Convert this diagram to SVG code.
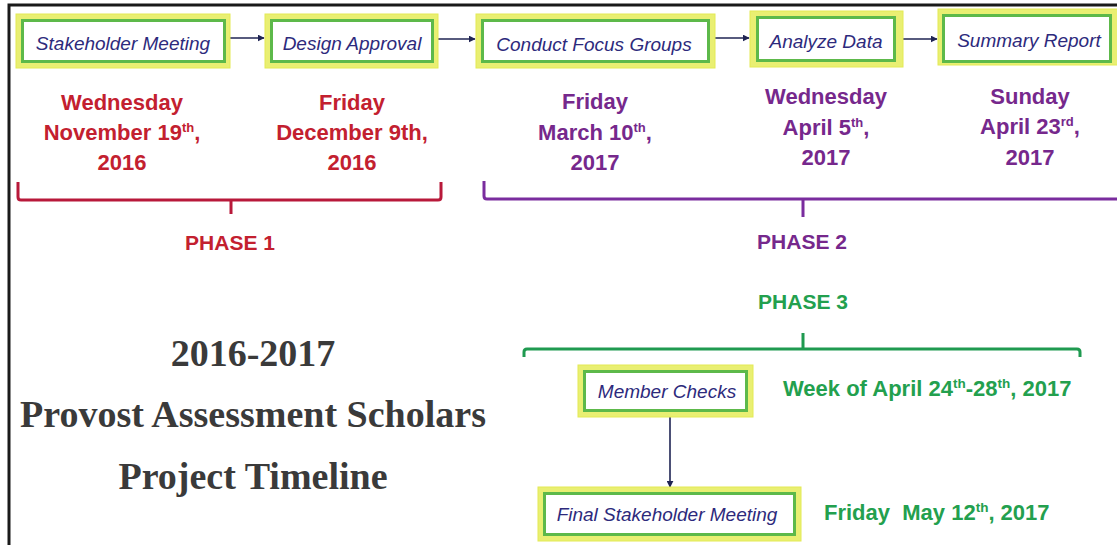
<svg xmlns="http://www.w3.org/2000/svg" width="1117" height="545" viewBox="0 0 1117 545">
<defs>
<style>
.glow{fill:#e9ef72;stroke:#e3ea55;stroke-width:1}
.box{fill:#ffffff;stroke:#5db94a;stroke-width:3}
.nt{font-family:"Liberation Sans",Arial,sans-serif;font-style:italic;font-size:19px;fill:#2d2a7c;text-anchor:middle}
.dr{font-family:"Liberation Sans",Arial,sans-serif;font-weight:bold;font-size:22px;fill:#c3202f;text-anchor:middle}
.dp{font-family:"Liberation Sans",Arial,sans-serif;font-weight:bold;font-size:22px;fill:#76288c;text-anchor:middle}
.dg{font-family:"Liberation Sans",Arial,sans-serif;font-weight:bold;font-size:22px;fill:#23a04e}
.ph{font-family:"Liberation Sans",Arial,sans-serif;font-weight:bold;font-size:21px;text-anchor:middle}
.title{font-family:"Liberation Serif","Times New Roman",serif;font-weight:bold;font-size:38px;fill:#3a3a3a;text-anchor:middle}
.conn{fill:none;stroke:#1f2453;stroke-width:1.6}
.br{fill:none;stroke-width:3;stroke-linejoin:round}
</style>
<marker id="ah" viewBox="0 0 10 10" refX="9" refY="5" markerWidth="7" markerHeight="7" markerUnits="userSpaceOnUse" orient="auto">
<path d="M0,0 L10,5 L0,10 z" fill="#1f2453"/>
</marker>
</defs>
<rect width="1117" height="545" fill="#ffffff"/>
<path d="M9,545 V5 H1117" fill="none" stroke="#1a1a1a" stroke-width="3"/>

<g id="connectors">
<path class="conn" d="M230,38 H264" marker-end="url(#ah)"/>
<path class="conn" d="M437,39 H475" marker-end="url(#ah)"/>
<path class="conn" d="M715,38 H749" marker-end="url(#ah)"/>
<path class="conn" d="M903,39 H937" marker-end="url(#ah)"/>
<path class="conn" d="M670,416 V487" marker-end="url(#ah)"/>
</g>

<g id="n-stakeholder">
<rect class="glow" x="16" y="14" width="214" height="54"/>
<rect class="box" x="22.5" y="20.5" width="202" height="41"/>
<text class="nt" x="123" y="50">Stakeholder Meeting</text>
</g>
<g id="n-design">
<rect class="glow" x="265" y="14" width="173" height="54"/>
<rect class="box" x="271.5" y="20.5" width="161" height="41"/>
<text class="nt" x="352" y="50">Design Approval</text>
</g>
<g id="n-focus">
<rect class="glow" x="476" y="14" width="239" height="54"/>
<rect class="box" x="482.5" y="20.5" width="226" height="41"/>
<text class="nt" x="594" y="51">Conduct Focus Groups</text>
</g>
<g id="n-analyze">
<rect class="glow" x="750" y="11" width="153" height="56"/>
<rect class="box" x="757.5" y="17.5" width="137" height="43"/>
<text class="nt" x="826" y="48">Analyze Data</text>
</g>
<g id="n-summary">
<rect class="glow" x="938" y="9" width="190" height="56"/>
<rect class="box" x="943.5" y="15.5" width="167" height="46"/>
<text class="nt" x="1029" y="47">Summary Report</text>
</g>
<g id="n-member">
<rect class="glow" x="578" y="365" width="175" height="52"/>
<rect class="box" x="584.5" y="371.5" width="162" height="39"/>
<text class="nt" x="667" y="398">Member Checks</text>
</g>
<g id="n-final">
<rect class="glow" x="538" y="487" width="263" height="54"/>
<rect class="box" x="544.5" y="493.5" width="250" height="41"/>
<text class="nt" x="667" y="521">Final Stakeholder Meeting</text>
</g>

<g id="dates-phase1">
<text class="dr" x="122" y="110">Wednesday</text>
<text class="dr" x="122" y="140">November 19<tspan font-size="13" dy="-8">th</tspan><tspan dy="8">,</tspan></text>
<text class="dr" x="122" y="170">2016</text>
<text class="dr" x="352" y="110">Friday</text>
<text class="dr" x="352" y="140">December 9th,</text>
<text class="dr" x="352" y="170">2016</text>
</g>
<g id="dates-phase2">
<text class="dp" x="595" y="109">Friday</text>
<text class="dp" x="595" y="140">March 10<tspan font-size="13" dy="-8">th</tspan><tspan dy="8">,</tspan></text>
<text class="dp" x="595" y="170">2017</text>
<text class="dp" x="826" y="104">Wednesday</text>
<text class="dp" x="826" y="135">April 5<tspan font-size="13" dy="-8">th</tspan><tspan dy="8">,</tspan></text>
<text class="dp" x="826" y="165">2017</text>
<text class="dp" x="1030" y="104">Sunday</text>
<text class="dp" x="1030" y="134">April 23<tspan font-size="13" dy="-8">rd</tspan><tspan dy="8">,</tspan></text>
<text class="dp" x="1030" y="165">2017</text>
</g>

<g id="phase1">
<path class="br" stroke="#b8193a" d="M18,182 V197 Q18,200 21,200 H438 Q441,200 441,197 V182 M231,200 V214"/>
<text class="ph" fill="#c3202f" x="230" y="250">PHASE 1</text>
</g>
<g id="phase2">
<path class="br" stroke="#7a2c9e" d="M484,181 V196 Q484,199 487,199 H1117 M803,199 V217"/>
<text class="ph" fill="#76288c" x="802" y="249">PHASE 2</text>
</g>
<g id="phase3">
<path class="br" stroke="#1f9a50" d="M524,357 V352 Q524,349 527,349 H1077 Q1080,349 1080,352 V357 M803,333 V349"/>
<text class="ph" fill="#23a04e" x="803" y="309">PHASE 3</text>
<text class="dg" x="783" y="396">Week of April 24<tspan font-size="13.5" dy="-8">th</tspan><tspan dy="8">-28</tspan><tspan font-size="13.5" dy="-8">th</tspan><tspan dy="8">, 2017</tspan></text>
<text class="dg" x="824" y="520" xml:space="preserve">Friday  May 12<tspan font-size="13.5" dy="-8">th</tspan><tspan dy="8">, 2017</tspan></text>
</g>

<g id="title">
<text class="title" x="253" y="366">2016-2017</text>
<text class="title" x="253" y="427">Provost Assessment Scholars</text>
<text class="title" x="253" y="489">Project Timeline</text>
</g>
</svg>
